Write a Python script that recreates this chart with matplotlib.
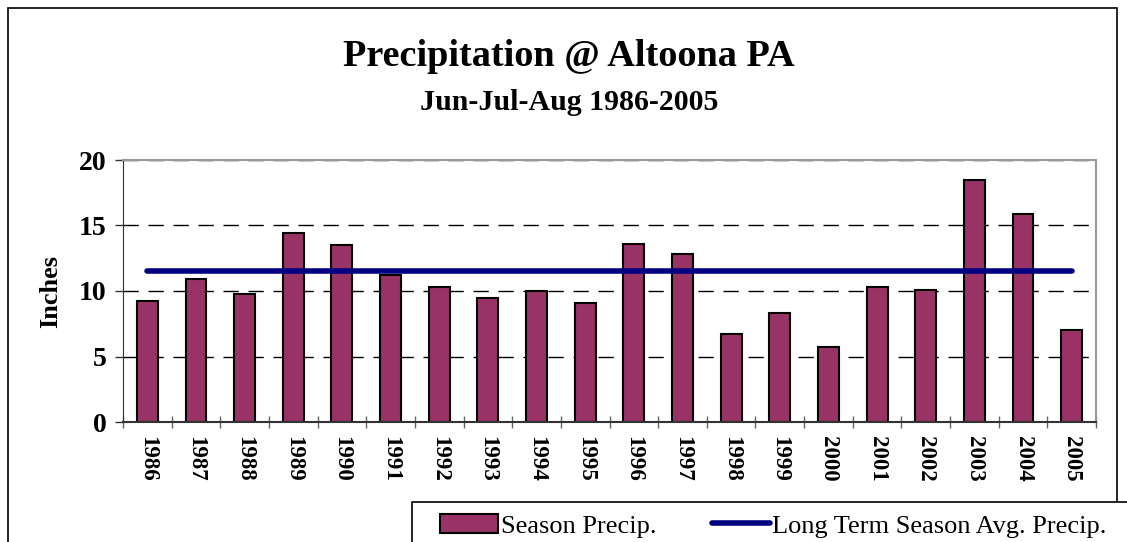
import numpy as np
import matplotlib.pyplot as plt
from matplotlib.patches import Rectangle

years = [str(y) for y in range(1986, 2006)]
precip = [9.2, 10.9, 9.8, 14.4, 13.5, 11.2, 10.3, 9.5, 10.0, 9.05,
          13.6, 12.85, 6.75, 8.3, 5.7, 10.3, 10.1, 18.5, 15.9, 7.05]
avg_precip = [11.5] * len(years)

plt.rcParams['font.family'] = ['Liberation Serif', 'DejaVu Serif']

fig = plt.figure(figsize=(11.27, 5.42), dpi=100)
ax = fig.add_axes([123/1127, 1 - 422/542, (1096 - 123)/1127, (422 - 160)/542])

x = np.arange(len(years))
ax.bar(x, precip, width=0.43, color='#993366', edgecolor='black', linewidth=1.5,
       label='Season Precip.', zorder=2)
ax.plot(x, avg_precip, color='#000080', linewidth=4, solid_capstyle='round',
        label='Long Term Season Avg. Precip.', zorder=3)

ax.set_xlim(-0.5, len(years) - 0.5)
ax.set_ylim(0, 20)
ax.set_yticks([0, 5, 10, 15, 20])
ax.set_yticklabels(['0', '5', '10', '15', '20'], fontsize=20, fontweight='bold')
ax.set_xticks(x)
ax.set_xticklabels(years, rotation=-90, fontsize=16.5, fontweight='bold')
ax.set_xticks(np.arange(-0.5, len(years)), minor=True)
ax.tick_params(axis='x', which='major', length=0, pad=10)
ax.tick_params(axis='x', which='minor', length=8, width=1, color='#666666', direction='inout')
ax.tick_params(axis='y', length=6, width=1, color='#333333', direction='out', pad=6)
ax.yaxis.grid(True, linestyle=(0, (11, 7)), color='black', linewidth=1)
ax.set_axisbelow(True)
for s in ['top', 'right']:
    ax.spines[s].set_color('#999999')
    ax.spines[s].set_linewidth(1.5)
ax.spines['left'].set_color('#333333')
ax.spines['bottom'].set_color('#333333')
ax.spines['bottom'].set_linewidth(1.5)
ax.set_ylabel('Inches', fontsize=19, fontweight='bold', labelpad=12)

fig.text(0.505, 1 - 57/542, 'Precipitation @ Altoona PA', ha='center', va='center',
         fontsize=27.5, fontweight='bold')
fig.text(0.505, 1 - 102/542, 'Jun-Jul-Aug 1986-2005', ha='center', va='center',
         fontsize=21.5, fontweight='bold')

# outer chart border
fig.patches.append(Rectangle((8/1127, -0.1), (1117 - 8)/1127, 1.1 - 8/542,
                             transform=fig.transFigure, fill=False,
                             edgecolor='black', linewidth=1.2))
# legend box (runs off the bottom/right edge like the original)
fig.patches.append(Rectangle((412/1127, -0.1), 0.7, 0.1 + 1 - 502/542,
                             transform=fig.transFigure, facecolor='white',
                             edgecolor='black', linewidth=1.2, zorder=5))

handles, labels = ax.get_legend_handles_labels()
order = [1, 0] if labels[0].startswith('Long') else [0, 1]
leg = fig.legend([handles[i] for i in order], [labels[i] for i in order],
                 loc='upper left', bbox_to_anchor=(427/1127, 1 - 501/542), ncol=2,
                 fontsize=19, frameon=False,
                 handlelength=2.2, handletextpad=0.1, columnspacing=2.1,
                 borderpad=0.5, borderaxespad=0)
leg.set_zorder(6)

fig.savefig('out.png', dpi=100)
